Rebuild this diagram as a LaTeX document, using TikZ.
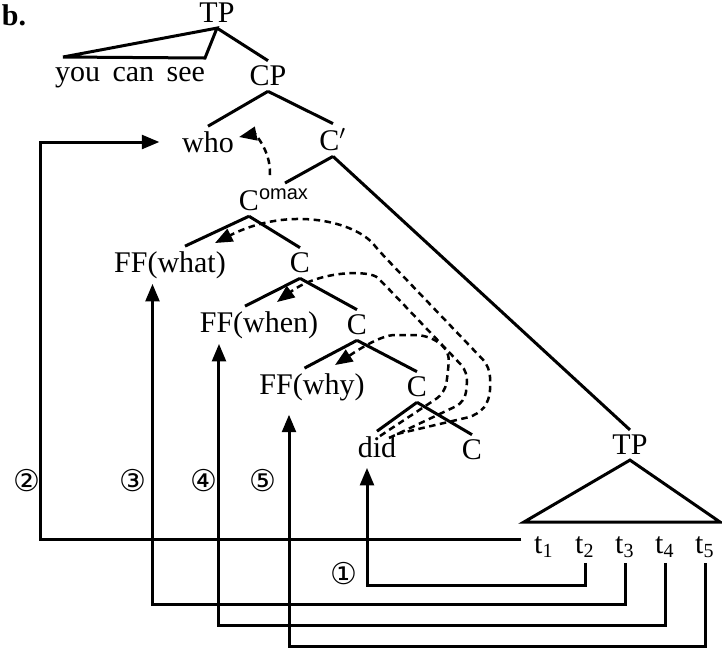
\documentclass[tikz,border=0pt]{standalone}
\usepackage{fontspec}
\setmainfont{Liberation Serif}
\newfontfamily\circfont{DejaVu Sans}
\newfontfamily\supfont{Liberation Sans}
\usetikzlibrary{calc,arrows.meta}

\begin{document}
\begin{tikzpicture}[x=0.4pt,y=-0.4pt,line width=1.2pt,
  every node/.style={inner sep=1.5pt,font=\fontsize{12}{14}\selectfont},
  arr/.style={-{Triangle[length=7pt,width=5.5pt]}},
  darr/.style={arr,dash pattern=on 2.6pt off 1.8pt,line width=1pt},
  num/.style={font=\circfont\fontsize{12}{14}\selectfont}]
  \useasboundingbox (0,0) rectangle (722,649);
  \node[font=\bfseries\fontsize{12}{14}\selectfont] (lbl) at (14,15) {b.};
  \node (tp) at (217,13) {TP};
  \coordinate (ycsl) at (63,57);
  \coordinate (ycsr) at (205,58);
  \node (ycs) at (130,78) {you\, can\, see};
  \node (cp) at (268,76) {CP};
  \node (who) at (208,142) {who};
  \node (cbar) at (333,140) {C$'$};
  \node (cmax) at (249,200) {C\rlap{\textsuperscript{\supfont omax}}};
  \node (ffwhat) at (170,265) {FF(what)};
  \node (c2) at (300,263) {C};
  \node (ffwhen) at (259,325) {FF(when)};
  \node (c3) at (357,325) {C};
  \node (ffwhy) at (312,387) {FF(why)};
  \node (c4) at (417,387) {C};
  \node (did) at (377,447) {did};
  \node (c5) at (472,450) {C};
  \node (tp2) at (630,445) {TP};
  \coordinate (tpl) at (524,522);
  \coordinate (tpr) at (720,522);
  \node (t1) at (544,547) {t\textsubscript{1}};
  \node (t2) at (585,547) {t\textsubscript{2}};
  \node (t3) at (625,547) {t\textsubscript{3}};
  \node (t4) at (665,547) {t\textsubscript{4}};
  \node (t5) at (705,547) {t\textsubscript{5}};
  \node[num] (n1) at (344,574) {①};
  \node[num] (n2) at (27,481) {②};
  \node[num] (n3) at (133,481) {③};
  \node[num] (n4) at (204,481) {④};
  \node[num] (n5) at (263,481) {⑤};

  \draw (tp.south) -- (ycsl) -- (ycsr) -- cycle;
  \draw (tp.south) -- (cp.north);
  \draw (cp.south) -- (who.north);
  \draw (cp.south) -- (cbar.north);
  \draw (cbar.south) -- ($(cmax)+(36,-17)$);
  \draw (cbar.south) -- (tp2.north);
  \draw (cmax.south) -- ([xshift=6pt]ffwhat.north);
  \draw (cmax.south) -- (c2.north);
  \draw (c2.south) -- ([xshift=-5.6pt]ffwhen.north);
  \draw (c2.south) -- (c3.north);
  \draw (c3.south) -- ([xshift=-3pt]ffwhy.north);
  \draw (c3.south) -- (c4.north);
  \draw (c4.south) -- (did.north);
  \draw (c4.south) -- (c5.north);
  \draw (tp2.south) -- (tpl) -- (tpr) -- cycle;

  \draw[arr] ([xshift=-3pt,yshift=3pt]t1.west) -- ++(-481,0) |- ([xshift=-7pt]who.west);
  \draw[arr] (t2.south) -- ++(0,23) -| ([xshift=-4pt,yshift=-2pt]did.south);
  \draw[arr] (t3.south) -- ++(0,41) -| ([xshift=-7pt]ffwhat.south);
  \draw[arr] (t4.south) -- ++(0,63) -| ([xshift=-16pt]ffwhen.south);
  \draw[arr] (t5.south) -- ++(0,83) -| ([xshift=-9.2pt,yshift=-3.5pt]ffwhy.south);

  \draw[darr] ($(cmax)+(21,-25)$) .. controls ($(cmax)+(22,-50)$) and ($(who.east)+(15,-8)$) .. ([yshift=2pt]who.east);
  \draw[darr,rounded corners=4pt] ($(did)+(3,-11)$) -- (445,393) -- (448,372)
    .. controls (450,345) and (430,335) .. (405,335)
    .. controls (380,335) and (355,352) .. ($(ffwhy)+(23,-22)$);
  \draw[darr,rounded corners=4pt] ($(did)+(12,-9)$) -- (465,402) -- (468,372) -- (385,285)
    .. controls (370,270) and (320,270) .. ($(ffwhen)+(18,-23)$);
  \draw[darr,rounded corners=4pt] ($(did)+(20,-13)$) -- (478,415) -- (490,400) -- (490,367) -- (380,252)
    .. controls (355,222) and (290,205) .. ($(ffwhat)+(45,-22)$);
\end{tikzpicture}
\end{document}
